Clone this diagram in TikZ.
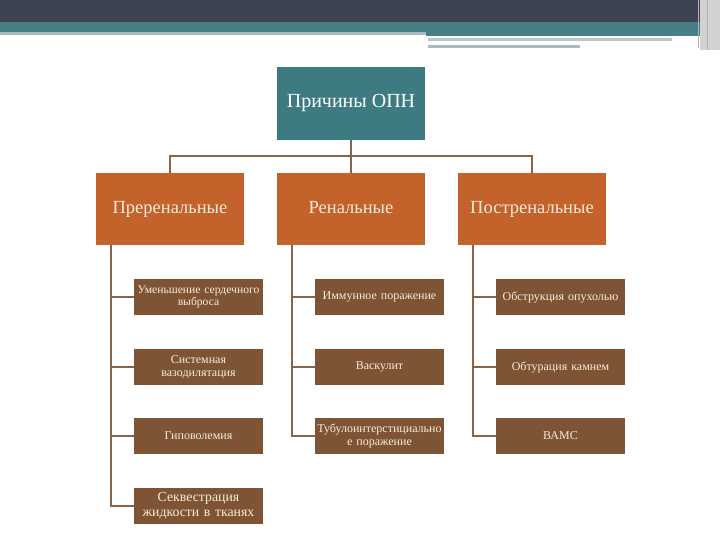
\documentclass[tikz,border=0pt]{standalone}
\usepackage{fontspec}
\setmainfont{Liberation Serif}
\usetikzlibrary{positioning}
\definecolor{topdark}{HTML}{3E4352}
\definecolor{topteal}{HTML}{467F86}
\definecolor{topgray}{HTML}{A9B9BD}
\definecolor{rootteal}{HTML}{3E7B80}
\definecolor{mainorange}{HTML}{C3622B}
\definecolor{subbrown}{HTML}{7E5434}
\definecolor{linkbrown}{HTML}{8A6445}
\definecolor{creamtext}{HTML}{F8EBDA}

\begin{document}
\begin{tikzpicture}[x=1pt,y=-1pt,
    rootbox/.style={fill=rootteal, text=white, minimum width=148pt, minimum height=73pt, font=\fontsize{20}{22}\selectfont},
    groupbox/.style={fill=mainorange, text=creamtext, minimum width=148pt, minimum height=72pt, text height=13pt, text depth=4pt, font=\fontsize{18.5}{20}\selectfont},
    causebox/.style={fill=subbrown, text=creamtext, minimum width=129pt, minimum height=36pt, text width=127pt, align=center, inner xsep=1pt, inner ysep=0pt, font=\fontsize{12}{12.5}\selectfont},
    link/.style={draw=linkbrown, line width=2pt}]
    \useasboundingbox (0,0) rectangle (720,540);

    % Header strip
    \fill[topdark] (0,0) rectangle (720,22);
    \fill[topteal] (0,22) rectangle (700,32);
    \fill[topgray] (0,32) rectangle (426,35);
    \fill[topteal] (426,32) rectangle (700,36);
    \fill[topgray!80] (428,38) rectangle (672,41);
    \fill[topgray] (428,45) rectangle (580,48);
    \fill[gray!35] (700,0) rectangle (720,50);
    \draw[gray!60, line width=1pt] (698,0) -- (698,48);
    \draw[gray!60, line width=1pt] (707,0) -- (707,50);

    % Root
    \node[rootbox] (root) at (351,103.5) {Причины ОПН};

    % Groups
    \node[groupbox] (pre) at (170,209) {Преренальные};
    \node[groupbox] (ren) at (351,209) {Ренальные};
    \node[groupbox] (post) at (532,209) {Постренальные};

    \coordinate (bus) at (351,156);
    \draw[link] (root.south) -- (bus);
    \draw[link] (pre.north) |- (bus) -| (post.north);
    \draw[link] (ren.north) -- (bus);

    % Prerenal causes
    \node[causebox, font=\fontsize{11.6}{12}\selectfont] (pre1) at (198.5,297) {Уменьшение сердечного\\выброса};
    \node[causebox] (pre2) at (198.5,367) {Системная\\вазодилятация};
    \node[causebox] (pre3) at (198.5,436) {Гиповолемия};
    \node[causebox, font=\fontsize{13.8}{14.5}\selectfont] (pre4) at (198.5,506) {Секвестрация\\жидкости в тканях};

    % Renal causes
    \node[causebox] (ren1) at (379.5,297) {Иммунное поражение};
    \node[causebox] (ren2) at (379.5,367) {Васкулит};
    \node[causebox] (ren3) at (379.5,436) {Тубулоинтерстициально\\е поражение};

    % Postrenal causes
    \node[causebox] (post1) at (560.5,297) {Обструкция опухолью};
    \node[causebox] (post2) at (560.5,367) {Обтурация камнем};
    \node[causebox] (post3) at (560.5,436) {ВАМС};

    % Branches
    \foreach \g/\n in {pre/4, ren/3, post/3}{
        \foreach \i in {1,...,\n}{
            \draw[link] ([xshift=-59pt]\g.south) |- (\g\i.west);
        }
    }
\end{tikzpicture}
\end{document}
